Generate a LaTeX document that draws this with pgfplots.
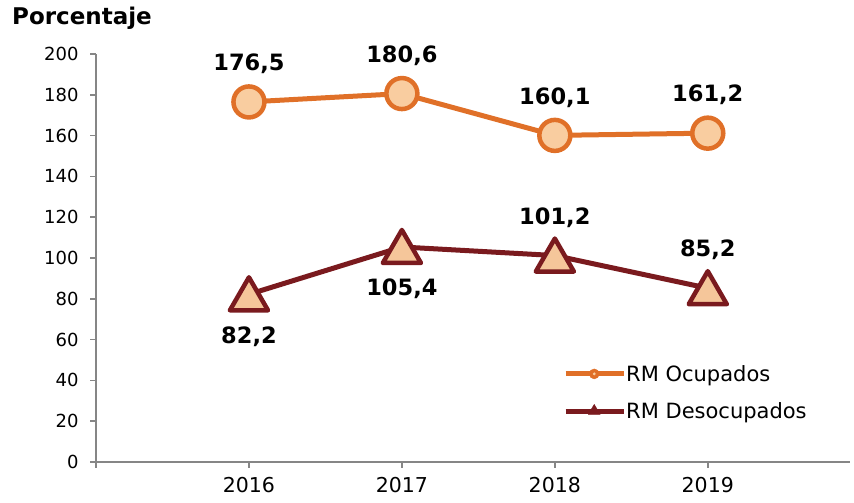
\documentclass[border=0pt]{standalone}
\usepackage{pgfplots}
\pgfplotsset{compat=1.18}
\usepackage{fontspec}
\setmainfont{DejaVu Sans}
\definecolor{ocu}{HTML}{E07028}
\definecolor{ocufill}{HTML}{F9CDA0}
\definecolor{des}{HTML}{7A1A1E}
\definecolor{desfill}{HTML}{F5C69A}
\definecolor{axgray}{HTML}{868686}
\begin{document}
\begin{tikzpicture}
\useasboundingbox (-96pt,-41pt) rectangle (758pt,462pt);
\begin{axis}[
  at={(0pt,0pt)}, anchor=south west,
  scale only axis, width=754pt, height=408pt,
  xmin=2015, xmax=2019.93, ymin=0, ymax=200,
  axis lines=left,
  axis line style={draw=axgray, line width=1.5pt, -},
  xtick={2015,2016,2017,2018,2019},
  xticklabels={{},2016,2017,2018,2019},
  ytick={0,20,...,200},
  tick align=outside,
  tick style={draw=axgray, line width=1.5pt},
  major tick length=6pt,
  x tick label style={font=\fontsize{20.5}{24}\selectfont, yshift=-6pt},
  y tick label style={font=\fontsize{18}{22}\selectfont, xshift=-8pt},
  /pgf/number format/assume math mode=true,
  /pgf/number format/1000 sep={},
  clip=false,
  legend style={draw=none, fill=none, at={(0.6194,0.170)}, anchor=west,
    inner sep=0pt, row sep=18pt, column sep=0pt,
    nodes={inner ysep=1pt, inner xsep=0pt, font=\fontsize{21}{24}\selectfont}},
  legend cell align=left,
]
% legend images
\addlegendimage{legend image code/.code={
  \draw[ocu, line width=5pt] (0pt,0pt) -- (58pt,0pt);
  \fill[ocu] (28.5pt,0pt) circle (5pt);
  \fill[ocufill] (28.5pt,0pt) circle (1.2pt);}}
\addlegendentry{RM Ocupados}
\addlegendimage{legend image code/.code={
  \draw[des, line width=5pt] (0pt,0pt) -- (58pt,0pt);
  \fill[des, line join=round] (22.5pt,-3pt) -- (28.5pt,7pt) -- (34.5pt,-3pt) -- cycle;}}
\addlegendentry{RM Desocupados}

% RM Ocupados
\addplot[forget plot, ocu, line width=5pt, mark=*, mark size=15.5pt,
  mark options={fill=ocufill, draw=ocu, line width=4.5pt}]
  table {
x y
2016 176.5
2017 180.6
2018 160.1
2019 161.2
};
% RM Desocupados
\addplot[forget plot, des, line width=5pt, mark=triangle*, mark size=22pt,
  mark options={fill=desfill, draw=des, line width=4.5pt, line join=round, yshift=-5pt}]
  table {
x y
2016 82.2
2017 105.4
2018 101.2
2019 85.2
};
% labels
\addplot[forget plot, draw=none, mark=none, nodes near coords, point meta=explicit symbolic,
  every node near coord/.style={anchor=center, yshift=38pt, inner sep=0pt,
    font=\fontsize{22.5}{26}\selectfont\bfseries, text=black}]
  table[meta=lab] {
x y lab
2016 176.5 176,5
2017 180.6 180,6
2018 160.1 160,1
2019 161.2 161,2
2018 101.2 101,2
2019 85.2 85,2
};
\addplot[forget plot, draw=none, mark=none, nodes near coords, point meta=explicit symbolic,
  every node near coord/.style={anchor=center, yshift=-42pt, inner sep=0pt,
    font=\fontsize{22.5}{26}\selectfont\bfseries, text=black}]
  table[meta=lab] {
x y lab
2016 82.2 82,2
2017 105.4 105,4
};
\node[anchor=base west, inner sep=0pt, font=\fontsize{23}{26}\selectfont\bfseries]
  at (rel axis cs:-0.1114,1.0711) {Porcentaje};
\end{axis}
\end{tikzpicture}
\end{document}
